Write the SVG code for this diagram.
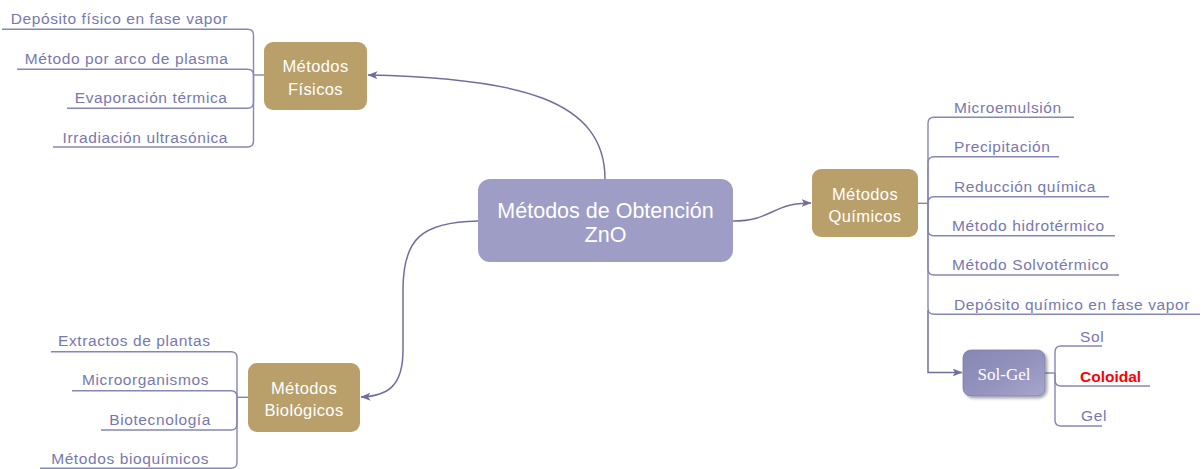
<svg xmlns="http://www.w3.org/2000/svg" width="1204" height="469" viewBox="0 0 1204 469">
  <defs>
    <style>
      .bg { fill: #ffffff; }
      .root rect { fill: #9d9dc6; }
      .main rect { fill: #b9a06b; }
      .root text, .main text { fill: #ffffff; font-family: "Liberation Sans", Arial, sans-serif; text-anchor: middle; }
      .root text { font-size: 21.5px; }
      .main text { font-size: 16.5px; letter-spacing: 0.4px; }
      .leaf text { fill: #7878ae; font-family: "Liberation Sans", Arial, sans-serif; font-size: 15.5px; letter-spacing: 0.6px; }
      .leaf .end { text-anchor: end; }
      .leaf .hot { fill: #ff0000; font-weight: bold; letter-spacing: 0; }
      .branch { fill: none; stroke: #8686b6; stroke-width: 1.4; }
      .link { fill: none; stroke: #6f6f9e; stroke-width: 1.5; }
      .solgel text { fill: #ffffff; font-family: "Liberation Serif", "Times New Roman", serif; font-size: 17px; text-anchor: middle; }
    </style>
    <marker id="arrow" viewBox="0 0 10 8" refX="9.5" refY="4" markerWidth="10" markerHeight="8" markerUnits="userSpaceOnUse" orient="auto">
      <path d="M0,0 L10,4 L0,8 L2.5,4 Z" fill="#6f6f9e"/>
    </marker>
    <linearGradient id="solgelFill" x1="0" y1="0" x2="1" y2="1">
      <stop offset="0" stop-color="#8787b4"/>
      <stop offset="0.55" stop-color="#9393be"/>
      <stop offset="1" stop-color="#a6a6cd"/>
    </linearGradient>
    <filter id="shadow" x="-20%" y="-20%" width="150%" height="160%">
      <feGaussianBlur in="SourceAlpha" stdDeviation="1.5"/>
      <feOffset dx="2" dy="2" result="b"/>
      <feComponentTransfer><feFuncA type="linear" slope="0.35"/></feComponentTransfer>
      <feMerge><feMergeNode/><feMergeNode in="SourceGraphic"/></feMerge>
    </filter>
  </defs>

  <rect class="bg" x="0" y="0" width="1204" height="469"/>

  <!-- connectors between the central topic and the three method groups -->
  <g id="connectors">
    <path class="link" d="M605,179 C605,100 520,78 368,75" marker-end="url(#arrow)"/>
    <path class="link" d="M733,221 C772,221 772,203 811,203" marker-end="url(#arrow)"/>
    <path class="link" d="M478,221 C420,222 403,240 403,290 L403,350 C403,386 388,396 361,397" marker-end="url(#arrow)"/>
    <path class="link" d="M928,310 V372.5 H962" marker-end="url(#arrow)"/>

    <!-- physical methods branches -->
    <path class="branch" d="M264,75 H253.5"/>
    <path class="branch" d="M253.5,75 V35 Q253.5,29.3 247.5,29.3 H2"/>
    <path class="branch" d="M253.5,75 Q253.5,69.3 247.5,69.3 H17"/>
    <path class="branch" d="M253.5,75 V102 Q253.5,108.3 247.5,108.3 H67"/>
    <path class="branch" d="M253.5,75 V141 Q253.5,147 247.5,147 H53"/>

    <!-- chemical methods branches -->
    <path class="branch" d="M918,203.3 H928"/>
    <path class="branch" d="M928,203.3 V123.3 Q928,117.3 934,117.3 H1074"/>
    <path class="branch" d="M928,203.3 V162.7 Q928,156.7 934,156.7 H1059"/>
    <path class="branch" d="M928,203.3 Q928,196.7 934,196.7 H1109"/>
    <path class="branch" d="M928,203.3 V229.7 Q928,235.7 934,235.7 H1115"/>
    <path class="branch" d="M928,203.3 V269 Q928,275 934,275 H1119"/>
    <path class="branch" d="M928,203.3 V308.3 Q928,314.3 934,314.3 H1200"/>

    <!-- sol-gel branches -->
    <path class="branch" d="M1045,373 H1055"/>
    <path class="branch" d="M1055,373 V352 Q1055,346 1061,346 H1102"/>
    <path class="branch" d="M1055,373 V380 Q1055,386 1061,386 H1150"/>
    <path class="branch" d="M1055,373 V420 Q1055,426 1061,426 H1102"/>

    <!-- biological methods branches -->
    <path class="branch" d="M248,397.3 H237"/>
    <path class="branch" d="M237,397.3 V357.7 Q237,351.7 231,351.7 H51"/>
    <path class="branch" d="M237,397.3 Q237,390.7 231,390.7 H72"/>
    <path class="branch" d="M237,397.3 V424 Q237,430 231,430 H101"/>
    <path class="branch" d="M237,397.3 V462.3 Q237,468.3 231,468.3 H40"/>
  </g>

  <!-- central topic -->
  <g id="root" class="root">
    <rect x="478" y="179" width="255" height="83" rx="12"/>
    <text x="605.5" y="217.5">Métodos de Obtención</text>
    <text x="605.5" y="242">ZnO</text>
  </g>

  <!-- method groups -->
  <g id="fisicos" class="main">
    <rect x="264" y="42" width="103" height="68" rx="9"/>
    <text x="315.5" y="72">Métodos</text>
    <text x="315.5" y="95">Físicos</text>
  </g>
  <g id="quimicos" class="main">
    <rect x="812" y="169" width="106" height="68" rx="9"/>
    <text x="865" y="199.5">Métodos</text>
    <text x="865" y="222">Químicos</text>
  </g>
  <g id="biologicos" class="main">
    <rect x="248" y="363" width="112" height="69" rx="9"/>
    <text x="304" y="394">Métodos</text>
    <text x="304" y="416">Biológicos</text>
  </g>
  <g id="solgel" class="solgel">
    <rect x="963" y="350" width="82" height="46" rx="8" fill="url(#solgelFill)" stroke="#7e7eaa" stroke-width="0.8" filter="url(#shadow)"/>
    <text x="1004" y="380">Sol-Gel</text>
  </g>

  <!-- physical methods -->
  <g id="fisicos-items" class="leaf">
    <text class="end" x="228" y="24">Depósito físico en fase vapor</text>
    <text class="end" x="228.5" y="63.5">Método por arco de plasma</text>
    <text class="end" x="227.5" y="102.5">Evaporación térmica</text>
    <text class="end" x="228" y="142.5">Irradiación ultrasónica</text>
  </g>

  <!-- chemical methods -->
  <g id="quimicos-items" class="leaf">
    <text x="954" y="112.5">Microemulsión</text>
    <text x="954" y="152">Precipitación</text>
    <text x="954" y="191.5">Reducción química</text>
    <text x="952" y="231">Método hidrotérmico</text>
    <text x="952" y="270">Método Solvotérmico</text>
    <text x="954" y="310">Depósito químico en fase vapor</text>
  </g>

  <!-- sol-gel variants -->
  <g id="solgel-items" class="leaf">
    <text x="1080" y="342">Sol</text>
    <text class="hot" x="1080" y="382">Coloidal</text>
    <text x="1081" y="421">Gel</text>
  </g>

  <!-- biological methods -->
  <g id="biologicos-items" class="leaf">
    <text class="end" x="210.5" y="346">Extractos de plantas</text>
    <text class="end" x="209" y="385">Microorganismos</text>
    <text class="end" x="211" y="424.5">Biotecnología</text>
    <text class="end" x="209" y="464">Métodos bioquímicos</text>
  </g>
</svg>
